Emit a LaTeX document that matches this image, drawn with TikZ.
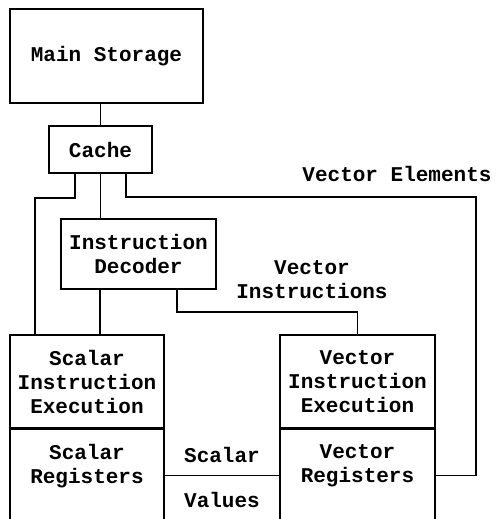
\documentclass[tikz,border=0pt]{standalone}
\usepackage{fontspec}
\setmonofont{Liberation Mono}
\usepackage{tikz}
\usetikzlibrary{positioning}

\begin{document}
\begin{tikzpicture}[
    x=1pt, y=-1pt,
    every node/.style={font=\ttfamily\bfseries\fontsize{21}{24}\selectfont},
    unit/.style={rectangle, draw=black, line width=1.5pt, inner sep=0pt, align=center},
    link/.style={line width=1.5pt}
]
\useasboundingbox (0,0) rectangle (495,519);

% storage hierarchy
\node[unit, minimum width=193, minimum height=94] (storage) at (106.5,56) {Main Storage};
\node[unit, minimum width=103, minimum height=47] (cache) at (100.5,149.5) {Cache};
\node[unit, minimum width=155, minimum height=70] (decoder) at (138.5,254) {Instruction\\Decoder};

% execution units
\node[unit, minimum width=154, minimum height=93] (sexec) at (87,381.5) {Scalar\\Instruction\\Execution};
\node[unit, minimum width=154, minimum height=92, text depth=23pt, anchor=north] (sregs) at (sexec.south) {Scalar\\Registers};
\node[unit, minimum width=155, minimum height=93] (vexec) at (357.5,381.5) {Vector\\Instruction\\Execution};
\node[unit, minimum width=155, minimum height=92, text depth=23pt, anchor=north] (vregs) at (vexec.south) {Vector\\Registers};

\coordinate (velem) at (476,197);

% connections
\draw[link] (cache.north) -- (cache.north |- storage.south);
\draw[link] ([xshift=-25.5pt]cache.south) -- ++(0,24) -| ([xshift=-52pt]sexec.north);
\draw[link] (cache.south) -- (cache.south |- decoder.north);
\draw[link] ([xshift=25.5pt]cache.south) |- (velem) |- (vregs.east);
\draw[link] ([xshift=-38.5pt]decoder.south) -- ([xshift=-38.5pt]decoder.south |- sexec.north);
\draw[link] ([xshift=38.5pt]decoder.south) -- ++(0,22) -| (vexec.north);
\draw[link] (sregs.east) -- (vregs.west)
    node[midway, above=9pt] (scalarlbl) {Scalar}
    node[midway, below=13pt] (valueslbl) {Values};

% labels
\node (elemlbl) at (397,174) {Vector Elements};
\node[align=center] (instrlbl) at (312,280) {Vector\\Instructions};

\end{tikzpicture}
\end{document}
